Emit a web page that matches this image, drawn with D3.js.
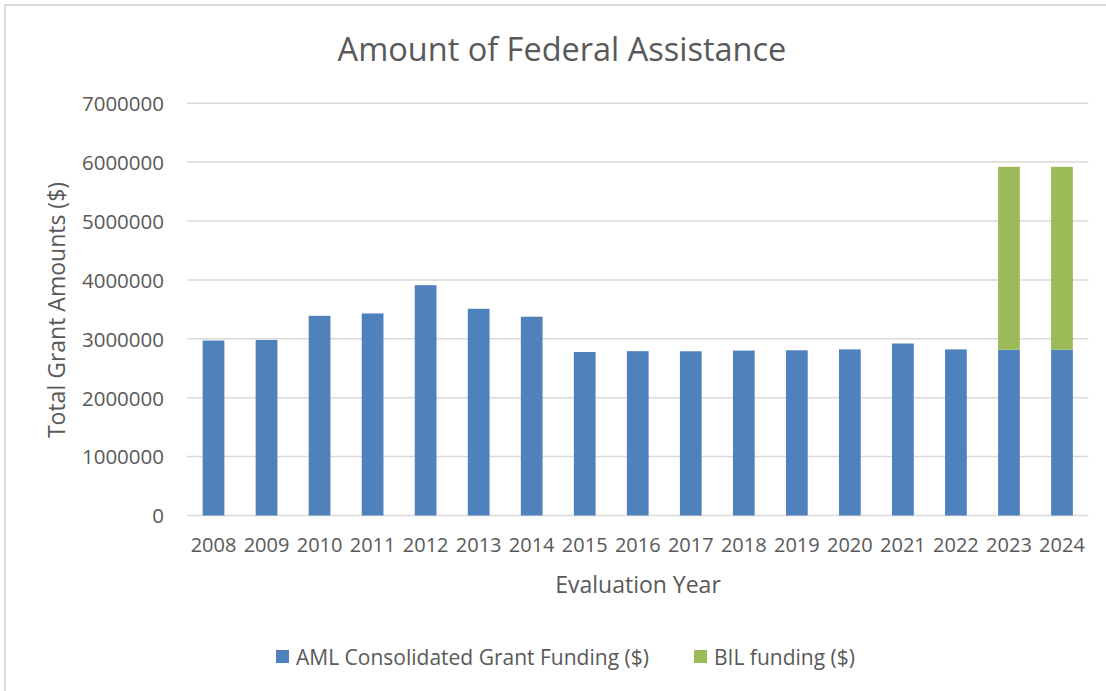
<!DOCTYPE html>
<html>
<head>
<meta charset="utf-8">
<script src="https://cdn.jsdelivr.net/npm/d3@7"></script>
<style>
  html, body { margin: 0; padding: 0; background: #fff; }
  svg { display: block; }
  text { font-family: "Open Sans", "Liberation Sans", sans-serif; fill: #595959; }
</style>
</head>
<body>
<svg id="chart" width="1106" height="691"></svg>
<script>
const years = ["2008","2009","2010","2011","2012","2013","2014","2015","2016","2017","2018","2019","2020","2021","2022","2023","2024"];
const amlFunding = [2970000, 2980000, 3390000, 3430000, 3910000, 3510000, 3375000, 2776000, 2790000, 2788000, 2800000, 2805000, 2820000, 2920000, 2820000, 2815000, 2815000];
const bilFunding = [0, 0, 0, 0, 0, 0, 0, 0, 0, 0, 0, 0, 0, 0, 0, 3105000, 3105000];
const yTicks = [0, 1000000, 2000000, 3000000, 4000000, 5000000, 6000000, 7000000];
const seriesNames = ["AML Consolidated Grant Funding ($)", "BIL funding ($)"];
const seriesColors = ["#4f81bd", "#9bbb59"];

const svg = d3.select("#chart");

// chart border
svg.append("rect")
  .attr("x", 5).attr("y", 5).attr("width", 1120).attr("height", 710)
  .attr("fill", "none").attr("stroke", "#d9d9d9").attr("stroke-width", 2);

const plotLeft = 187, plotRight = 1088.5, plotTop = 103.2, plotBottom = 515.5;

const x = d3.scaleBand().domain(years).range([plotLeft, plotRight])
  .paddingInner(0.59).paddingOuter(0.295);
const y = d3.scaleLinear().domain([0, 7000000]).range([plotBottom, plotTop]);

// gridlines
svg.append("g").selectAll("line").data(yTicks).join("line")
  .attr("x1", plotLeft).attr("x2", plotRight)
  .attr("y1", d => y(d)).attr("y2", d => y(d))
  .attr("stroke", "#d9d9d9").attr("stroke-width", 1.5);

// y axis labels
const yAxis = d3.axisLeft(y).tickValues(yTicks).tickFormat(d => String(d)).tickSize(0).tickPadding(0);
const yg = svg.append("g").attr("transform", `translate(${plotLeft - 23},0)`).call(yAxis);
yg.select(".domain").remove();
yg.selectAll("text").style("font-size", "20.5px").attr("fill", "#595959").attr("dy", "0.36em")
  .style("font-family", "'Open Sans', sans-serif");

// stacked data
const stackData = years.map((yr, i) => ({ year: yr, aml: amlFunding[i], bil: bilFunding[i] }));
const stack = d3.stack().keys(["aml", "bil"]);
const layers = stack(stackData);

svg.append("g").selectAll("g").data(layers).join("g")
  .attr("fill", (d, i) => seriesColors[i])
  .selectAll("rect").data(d => d.filter(p => p[1] - p[0] > 0)).join("rect")
  .attr("x", d => x(d.data.year))
  .attr("width", x.bandwidth())
  .attr("y", d => y(d[1]))
  .attr("height", d => y(d[0]) - y(d[1]));

// x axis labels
const xAxis = d3.axisBottom(x).tickSize(0).tickPadding(0);
const xg = svg.append("g").attr("transform", `translate(0,${plotBottom + 22})`).call(xAxis);
xg.select(".domain").remove();
xg.selectAll("text").style("font-size", "20px").attr("fill", "#595959").attr("dy", "0.71em")
  .style("font-family", "'Open Sans', sans-serif");

// title
svg.append("text").attr("x", 562).attr("y", 61).attr("text-anchor", "middle")
  .style("font-size", "32.5px").text("Amount of Federal Assistance");

// axis titles
svg.append("text").attr("x", 638).attr("y", 593).attr("text-anchor", "middle")
  .style("font-size", "23px").text("Evaluation Year");
svg.append("text").attr("transform", "translate(65,310) rotate(-90)").attr("text-anchor", "middle")
  .style("font-size", "23px").text("Total Grant Amounts ($)");

// legend
const legendX = [276, 694];
const lg = svg.append("g");
seriesNames.forEach((name, i) => {
  lg.append("rect").attr("x", legendX[i]).attr("y", 650).attr("width", 13).attr("height", 13)
    .attr("fill", seriesColors[i]);
  lg.append("text").attr("x", legendX[i] + 20).attr("y", 665)
    .style("font-size", "21px").text(name);
});
</script>
</body>
</html>
